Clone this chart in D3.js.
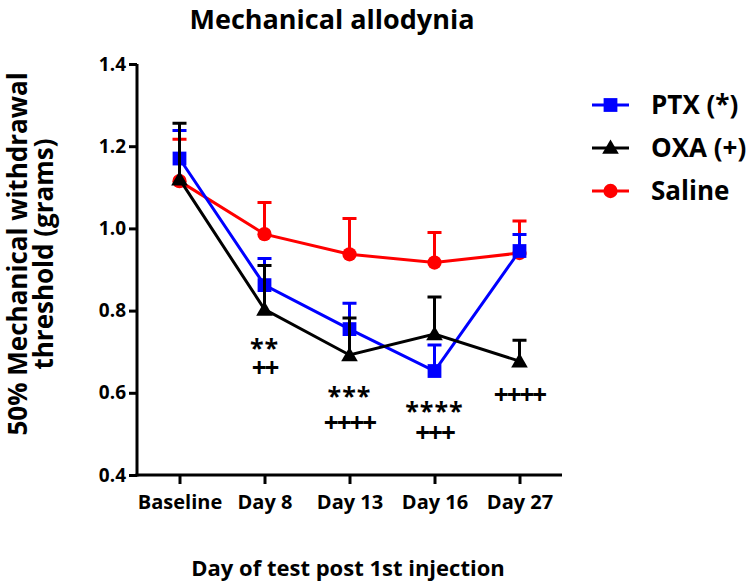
<!DOCTYPE html>
<html>
<head>
<meta charset="utf-8">
<script src="https://cdn.jsdelivr.net/npm/d3@7"></script>
<style>
  body { margin: 0; background: #fff; }
  svg text { font-family: "Open Sans", sans-serif; font-weight: bold; }
</style>
</head>
<body>
<svg id="chart" width="750" height="585"></svg>
<script>
var days = ['Baseline', 'Day 8', 'Day 13', 'Day 16', 'Day 27'];
var yTicks = [0.4, 0.6, 0.8, 1.0, 1.2, 1.4];

var salineMean = [1.115, 0.986, 0.937, 0.917, 0.940];
var salineErr  = [1.217, 1.063, 1.024, 0.990, 1.018];
var ptxMean    = [1.170, 0.862, 0.755, 0.653, 0.945];
var ptxErr     = [1.238, 0.927, 0.818, 0.716, 0.985];
var oxaMean    = [1.120, 0.803, 0.692, 0.743, 0.677];
var oxaErr     = [1.256, 0.910, 0.782, 0.833, 0.728];

// significance marks under each day
var annoDay   = ['Day 8', 'Day 8', 'Day 13', 'Day 13', 'Day 16', 'Day 16', 'Day 27'];
var annoText  = ['**', '++', '***', '++++', '****', '+++', '++++'];
var annoValue = [0.730, 0.662, 0.614, 0.527, 0.577, 0.504, 0.595];

var series = [
  {name: 'Saline', color: '#ff0000', shape: 'circle', mean: salineMean, err: salineErr},
  {name: 'PTX (*)', color: '#0000ff', shape: 'square', mean: ptxMean, err: ptxErr},
  {name: 'OXA (+)', color: '#000000', shape: 'triangle', mean: oxaMean, err: oxaErr}
];
var legendOrder = ['PTX (*)', 'OXA (+)', 'Saline'];

var svg = d3.select('#chart');

var x = d3.scalePoint().domain(days).range([137, 562]).padding(0.5);
var y = d3.scaleLinear().domain([0.4, 1.4]).range([475, 64]);

function symbolFor(shape) {
  if (shape === 'circle') return d3.symbol().type(d3.symbolCircle).size(160);
  if (shape === 'square') return d3.symbol().type(d3.symbolSquare).size(190);
  return d3.symbol().type(d3.symbolTriangle).size(120);
}

// axes
var yAxis = svg.append('g')
  .attr('transform', 'translate(137,0)')
  .call(d3.axisLeft(y).tickValues(yTicks).tickFormat(d3.format('.1f')).tickSize(8).tickPadding(3));
var xAxis = svg.append('g')
  .attr('transform', 'translate(0,475)')
  .call(d3.axisBottom(x).tickSize(9).tickPadding(11));

[yAxis, xAxis].forEach(function(g) {
  g.select('.domain').attr('stroke', '#000').attr('stroke-width', 3);
  g.selectAll('.tick line').attr('stroke', '#000').attr('stroke-width', 3);
  g.selectAll('.tick text').attr('fill', '#000').style('font-size', '20px');
});
yAxis.selectAll('.tick text').style('font-size', '19px');
yAxis.select('.domain').attr('d', 'M0,' + y(1.4) + 'V' + (y(0.4) + 1.5));
xAxis.select('.domain').attr('d', 'M135.5,0H' + x.range()[1]);

// series
series.forEach(function(s) {
  var g = svg.append('g');
  var pts = days.map(function(d, i) { return {day: d, mean: s.mean[i], err: s.err[i]}; });

  g.selectAll('.bar').data(pts).enter().append('path')
    .attr('fill', 'none').attr('stroke', s.color).attr('stroke-width', 3)
    .attr('d', function(p) {
      var cx = x(p.day);
      return 'M' + cx + ',' + y(p.mean) + 'V' + y(p.err) + 'M' + (cx - 7) + ',' + y(p.err) + 'H' + (cx + 7);
    });

  g.append('path').datum(pts)
    .attr('fill', 'none').attr('stroke', s.color).attr('stroke-width', 3)
    .attr('d', d3.line().x(function(p) { return x(p.day); }).y(function(p) { return y(p.mean); }));

  g.selectAll('.mark').data(pts).enter().append('path')
    .attr('fill', s.color)
    .attr('transform', function(p) {
      var off = s.shape === 'triangle' ? 1.5 : 0;
      return 'translate(' + x(p.day) + ',' + (y(p.mean) + off) + ')';
    })
    .attr('d', symbolFor(s.shape)());
});

// significance marks
svg.append('g').selectAll('text').data(annoText).enter().append('text')
  .attr('x', function(t, i) { return x(annoDay[i]); })
  .attr('y', function(t, i) { return y(annoValue[i]); })
  .attr('text-anchor', 'middle')
  .attr('dy', function(t) { return t.charAt(0) === '*' ? '0.72em' : '0.36em'; })
  .style('font-size', function(t) { return t.charAt(0) === '*' ? '25px' : '26px'; })
  .style('letter-spacing', function(t) { return t.charAt(0) === '*' ? '1px' : '-2px'; })
  .text(function(t) { return t; });

// legend
var legend = svg.append('g');
legendOrder.forEach(function(name, i) {
  var s = series.filter(function(d) { return d.name === name; })[0];
  var ly = 105 + i * 43;
  legend.append('line').attr('x1', 592).attr('x2', 629).attr('y1', ly).attr('y2', ly)
    .attr('stroke', s.color).attr('stroke-width', 3);
  legend.append('path').attr('fill', s.color)
    .attr('transform', 'translate(610.5,' + (ly + (s.shape === 'triangle' ? 1 : 0)) + ')')
    .attr('d', symbolFor(s.shape)());
  legend.append('text').attr('x', 651).attr('y', ly).attr('dy', '0.36em')
    .style('font-size', '26px').text(name);
});

// titles
svg.append('text').attr('x', 332).attr('y', 29).attr('text-anchor', 'middle')
  .style('font-size', '27px').text('Mechanical allodynia');
svg.append('text').attr('x', 348).attr('y', 576).attr('text-anchor', 'middle')
  .style('font-size', '22px').text('Day of test post 1st injection');
var yl = svg.append('text').attr('transform', 'translate(0,254) rotate(-90)')
  .attr('text-anchor', 'middle').style('font-size', '26px');
yl.append('tspan').attr('x', 0).attr('y', 27).text('50% Mechanical withdrawal');
yl.append('tspan').attr('x', 0).attr('y', 53).text('threshold (grams)');
</script>
</body>
</html>
